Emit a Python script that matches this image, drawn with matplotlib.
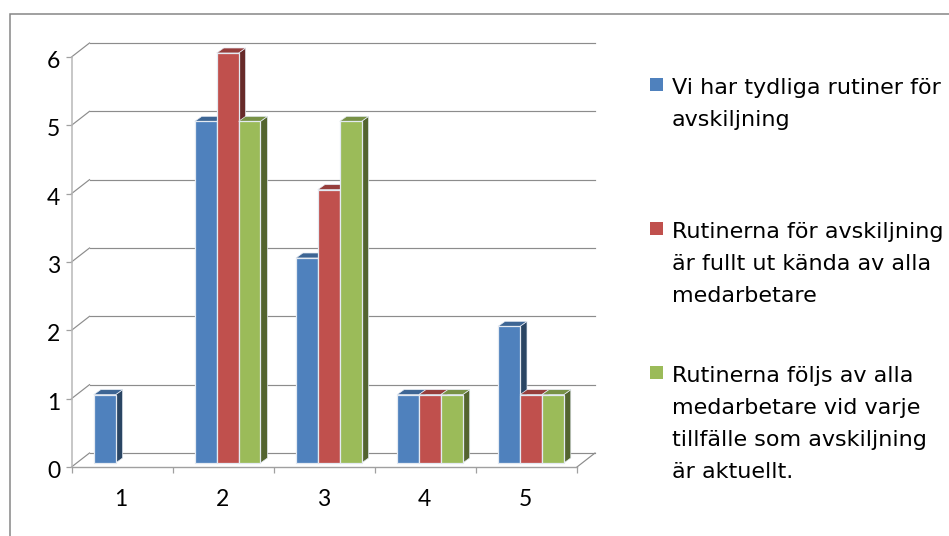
import matplotlib
matplotlib.use("Agg")
import matplotlib.pyplot as plt
from matplotlib.patches import Polygon, Rectangle
from matplotlib.transforms import Affine2D

plt.rcParams["font.family"] = ["Lato", "DejaVu Sans"]

categories = [1, 2, 3, 4, 5]
series_names = [
    "Vi har tydliga rutiner för\navskiljning",
    "Rutinerna för avskiljning\när fullt ut kända av alla\nmedarbetare",
    "Rutinerna följs av alla\nmedarbetare vid varje\ntillfälle som avskiljning\när aktuellt.",
]
blue_values = [1, 5, 3, 1, 2]
red_values = [0, 6, 4, 1, 1]
green_values = [0, 5, 5, 1, 1]
y_ticks = [0, 1, 2, 3, 4, 5, 6]

front_colors = ["#4F81BD", "#C0504D", "#9BBB59"]
top_colors = ["#3D6594", "#963E3C", "#789146"]
side_colors = ["#2A4563", "#672A29", "#53642F"]

W, H = 949, 536
fig = plt.figure(figsize=(W / 100, H / 100), dpi=100, facecolor="white")

# Outer chart border, running off the right and bottom of the canvas
fig.add_artist(Rectangle((9.5 / W, 1 - 713.5 / H), 1.2, 700 / H, transform=fig.transFigure,
                         fill=False, edgecolor="#868686", linewidth=1.1))

# The axes rectangle is the front floor/wall plane of the pseudo-3D box
left, right, bottom, top = 71.5, 577.0, 467.0, 57.0
ax = fig.add_axes([left / W, 1 - bottom / H, (right - left) / W, (bottom - top) / H])
ax.set_xlim(0.5, 5.5)
ax.set_ylim(0, 6)
ax.patch.set_visible(False)
for side in ("top", "right"):
    ax.spines[side].set_visible(False)
ax.spines["left"].set_color("#B8B8B8")
ax.spines["left"].set_linewidth(1.1)
ax.spines["bottom"].set_color("#A0A0A0")
ax.spines["bottom"].set_linewidth(1.0)

ax.set_yticks(y_ticks)
ax.set_xticks([c - 0.5 for c in categories] + [5.5])
ax.set_xticklabels([])
ax.tick_params(axis="both", length=4, width=0.9, color="#A0A0A0")
ax.tick_params(axis="y", labelsize=16.5, pad=4, labelcolor="black")
for label in ax.get_yticklabels():
    label.set_transform(label.get_transform() + Affine2D().translate(0, -2.5))

for c in categories:
    ax.annotate(str(c), (c, 0), xycoords="data", xytext=(-1, -33), textcoords="offset pixels",
                ha="center", va="center", fontsize=16.5, color="black")


def shifted(dx, dy):
    return ax.transData + Affine2D().translate(dx, dy)


# Back wall gridlines and their connectors to the front plane
grid_color = "#8C8C8C"
back = shifted(18, 14)
for v in y_ticks:
    ax.plot([0.5, 5.5], [v, v], color=grid_color, lw=0.85, transform=back, clip_on=False, zorder=1)
    x0, y0 = ax.transData.transform((0.5, v))
    ax.plot([x0, x0 + 18], [y0, y0 + 14], color=grid_color, lw=0.85,
            transform=None, clip_on=False, zorder=1)
x1, y1 = ax.transData.transform((5.5, 0))
ax.plot([x1, x1 + 18], [y1, y1 + 14], color=grid_color, lw=0.85, transform=None, clip_on=False, zorder=1)

# Columns: front face, top and side, set back from the front plane
bar_w = 0.2166
plane = shifted(4.5, 4)
depth_x, depth_y = 7.0, 5.0
edge = "#E4EAF2"
for s, values in enumerate([blue_values, red_values, green_values]):
    for c, v in zip(categories, values):
        if v == 0:
            continue
        x_l = c + (s - 1.5) * bar_w
        x_r = x_l + bar_w
        z = 3 + c * 0.01 + s * 0.001
        ax.bar(x_l, v, bar_w, align="edge", color=front_colors[s], edgecolor=edge,
               linewidth=0.9, transform=plane, clip_on=False, zorder=z + 0.0005)
        (xa, ya), (xb, yb) = plane.transform((x_r, 0)), plane.transform((x_r, v))
        ax.add_patch(Polygon([(xa, ya), (xb, yb), (xb + depth_x, yb + depth_y), (xa + depth_x, ya + depth_y)],
                             closed=True, facecolor=side_colors[s], edgecolor=edge, linewidth=0.5,
                             transform=None, clip_on=False, zorder=z))
        xc, yc = plane.transform((x_l, v))
        ax.add_patch(Polygon([(xc, yc), (xb, yb), (xb + depth_x, yb + depth_y), (xc + depth_x, yc + depth_y)],
                             closed=True, facecolor=top_colors[s], edgecolor=edge, linewidth=0.5,
                             transform=None, clip_on=False, zorder=z))

# Legend entries laid out line by line in the right-hand column
first_baselines = [94, 238, 382]
swatch_tops = [78, 222, 366]
line_pitch = 32
for name, color, base, sw in zip(series_names, front_colors, first_baselines, swatch_tops):
    fig.add_artist(Rectangle((649.5 / W, 1 - (sw + 13) / H), 13.5 / W, 13 / H,
                             transform=fig.transFigure, facecolor=color, edgecolor="none"))
    for i, line in enumerate(name.split("\n")):
        fig.text(672 / W, 1 - (base + i * line_pitch) / H, line, ha="left", va="baseline",
                 fontsize=16, family="DejaVu Sans", color="black")

fig.savefig("out.png", dpi=100)
